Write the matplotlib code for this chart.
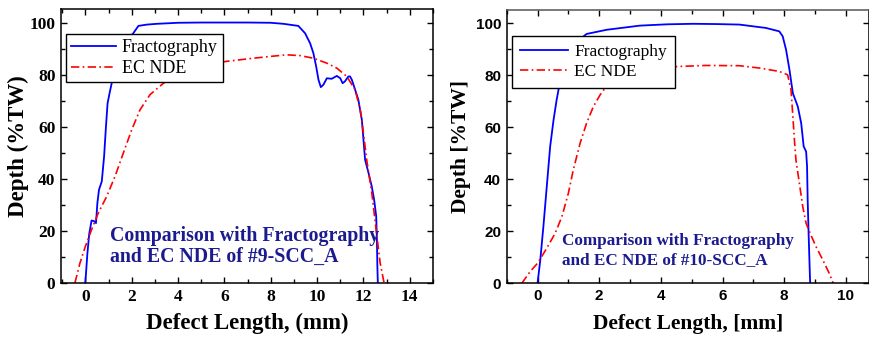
import matplotlib
matplotlib.use("Agg")
import numpy as np
from matplotlib import pyplot as plt
from matplotlib.ticker import MultipleLocator

# --- #9-SCC_A (left panel) ---
frac9_x = [0.0, 0.09, 0.17, 0.27, 0.39, 0.46, 0.52, 0.59, 0.71, 0.81, 0.89, 0.96, 1.06, 1.14, 1.21,
           1.4, 1.6, 1.8, 2.07, 2.29, 2.65, 3.08, 4.0, 5.0, 6.0, 7.0, 8.0, 8.55, 9.19, 9.48, 9.7,
           9.84, 9.96, 10.06, 10.16, 10.27, 10.42, 10.63, 10.85, 11.0, 11.1, 11.2, 11.35, 11.42,
           11.5, 11.64, 11.78, 11.93, 12.0, 12.07, 12.22, 12.36, 12.46, 12.55, 12.58, 12.6, 12.62]
frac9_y = [0.0, 11.5, 19.0, 24.0, 23.7, 23.0, 30.7, 35.8, 39.0, 48.6, 60.0, 69.0, 73.5, 76.8, 78.0,
           84.0, 89.0, 93.0, 95.9, 98.7, 99.2, 99.5, 99.9, 100.0, 100.0, 100.0, 99.9, 99.5, 98.7, 95.9, 92.0,
           88.2, 83.1, 78.0, 75.2, 76.1, 78.6, 78.4, 79.5, 78.6, 76.7, 77.4, 79.3, 79.3,
           78.0, 74.2, 70.3, 62.7, 55.0, 47.3, 42.2, 37.0, 32.0, 25.6, 16.6, 6.4, 0.0]

ec9_x = [-0.45, -0.23, 0.0, 0.27, 0.56, 0.92, 1.28, 1.64, 2.0, 2.36, 2.79, 3.37, 4.0, 4.5, 5.0,
         5.5, 6.1, 7.25, 8.0, 8.69, 9.27, 9.84, 10.42, 10.85, 11.28, 11.64, 11.86, 12.0, 12.14,
         12.36, 12.58, 12.72, 12.89]
ec9_y = [0.0, 7.7, 14.0, 20.5, 26.9, 33.2, 40.9, 49.9, 58.8, 66.5, 72.3, 76.7, 80.0, 82.0, 83.3,
         84.3, 85.1, 86.3, 87.0, 87.6, 87.3, 86.3, 84.4, 82.5, 79.3, 74.2, 66.5, 57.5, 47.3,
         34.5, 17.9, 7.7, 0.0]

# --- #10-SCC_A (right panel) ---
frac10_x = [0.0, 0.09, 0.19, 0.3, 0.41, 0.52, 0.62, 0.7, 0.9, 1.1, 1.3, 1.59, 2.24, 3.32, 4.2,
            5.04, 5.8, 6.55, 7.41, 7.84, 7.95, 8.06, 8.17, 8.28, 8.44, 8.55, 8.63, 8.71, 8.74,
            8.76, 8.79, 8.84]
frac10_y = [0.0, 9.0, 21.8, 37.2, 52.6, 62.8, 70.5, 75.6, 83.0, 89.0, 93.0, 95.8, 97.4, 99.0, 99.5,
            99.7, 99.6, 99.4, 98.1, 96.8, 94.9, 89.7, 82.0, 73.0, 67.9, 61.5, 52.6, 50.6, 44.9,
            32.0, 19.2, 0.0]

ec10_x = [-0.51, -0.24, 0.0, 0.3, 0.57, 0.79, 1.0, 1.16, 1.38, 1.59, 1.81, 2.03, 2.19, 2.6, 3.0,
          3.5, 4.0, 4.56, 5.47, 6.55, 7.2, 7.84, 8.11, 8.22, 8.28, 8.33, 8.38, 8.49, 8.6, 8.71,
          8.84, 9.03, 9.25, 9.46, 9.59]
ec10_y = [0.0, 4.5, 7.7, 13.5, 19.2, 25.6, 34.6, 43.6, 53.8, 61.5, 67.9, 72.4, 75.0, 78.5, 80.5,
          82.0, 82.8, 83.3, 83.7, 83.6, 82.7, 81.4, 80.1, 74.4, 64.1, 55.1, 47.4, 38.5, 29.5, 23.0,
          19.2, 14.1, 9.0, 3.8, 0.0]

serif = "Liberation Serif"
sans = "Liberation Sans"
navy = "#1b1b8f"

fig = plt.figure(figsize=(8.7, 3.38), dpi=100)
ax1 = fig.add_axes([0.0701, 0.1627, 0.4276, 0.8092])
ax2 = fig.add_axes([0.5824, 0.1618, 0.4165, 0.8086])


def style_axes(ax, xlim, tickfont):
    ax.set_xlim(*xlim)
    ax.set_ylim(0, 105)
    ax.xaxis.set_major_locator(MultipleLocator(2))
    ax.xaxis.set_minor_locator(MultipleLocator(1))
    ax.yaxis.set_major_locator(MultipleLocator(20))
    ax.yaxis.set_minor_locator(MultipleLocator(10))
    ax.tick_params(which="both", direction="in", top=True, right=True, width=1.0)
    ax.tick_params(which="major", length=4.5, pad=4)
    ax.tick_params(which="minor", length=3)
    for s in ax.spines.values():
        s.set_linewidth(1.1)
    for lab in ax.get_xticklabels() + ax.get_yticklabels():
        lab.set_fontfamily(tickfont[0])
        lab.set_fontsize(tickfont[1])
        lab.set_fontweight("bold")


# left panel
ax1.plot(frac9_x, frac9_y, color="#0000ff", lw=1.3, label="Fractography")
ax1.plot(ec9_x, ec9_y, color="#ff0000", lw=1.2, ls=(0, (5, 2, 1, 2)), label="EC NDE")
style_axes(ax1, (-1.05, 15.0), (serif, 12.5))
ax1.set_xlabel("Defect Length, (mm)", fontfamily=serif, fontsize=16.5, fontweight="bold", labelpad=6)
ax1.set_ylabel("Depth (%TW)", fontfamily=serif, fontsize=16.5, fontweight="bold", labelpad=0)
ax1.text(1.05, 14, "Comparison with Fractography\nand EC NDE of #9-SCC_A", color=navy,
         fontfamily=serif, fontsize=14.3, fontweight="bold", va="center", linespacing=1.1)
leg1 = ax1.legend(loc="upper left", bbox_to_anchor=(0.0126, 0.9104), borderaxespad=0,
                  prop={"family": serif, "size": 13},
                  frameon=True, fancybox=False, edgecolor="black", framealpha=1,
                  handlelength=2.5, borderpad=0.3, labelspacing=0.2, handletextpad=0.3)
leg1.get_frame().set_linewidth(1.0)

# right panel
ax2.plot(frac10_x, frac10_y, color="#0000ff", lw=1.3, label="Fractography")
ax2.plot(ec10_x, ec10_y, color="#ff0000", lw=1.2, ls=(0, (5, 2, 1, 2)), label="EC NDE")
style_axes(ax2, (-1.0, 10.75), (sans, 11))
ax2.spines["top"].set_color("#555555")
ax2.set_xlabel("Defect Length, [mm]", fontfamily=serif, fontsize=15.5, fontweight="bold", labelpad=8)
ax2.set_ylabel("Depth [%TW]", fontfamily=serif, fontsize=15.5, fontweight="bold", labelpad=3)
ax2.text(0.8, 12.5, "Comparison with Fractography\nand EC NDE of #10-SCC_A", color=navy,
         fontfamily=serif, fontsize=12.3, fontweight="bold", va="center", linespacing=1.3)
leg2 = ax2.legend(loc="upper left", bbox_to_anchor=(0.0146, 0.905), borderaxespad=0,
                  prop={"family": serif, "size": 12.5},
                  frameon=True, fancybox=False, edgecolor="black", framealpha=1,
                  handlelength=2.8, borderpad=0.45, labelspacing=0.25, handletextpad=0.35)
leg2.get_frame().set_linewidth(1.0)

fig.savefig("out.png", dpi=100)
